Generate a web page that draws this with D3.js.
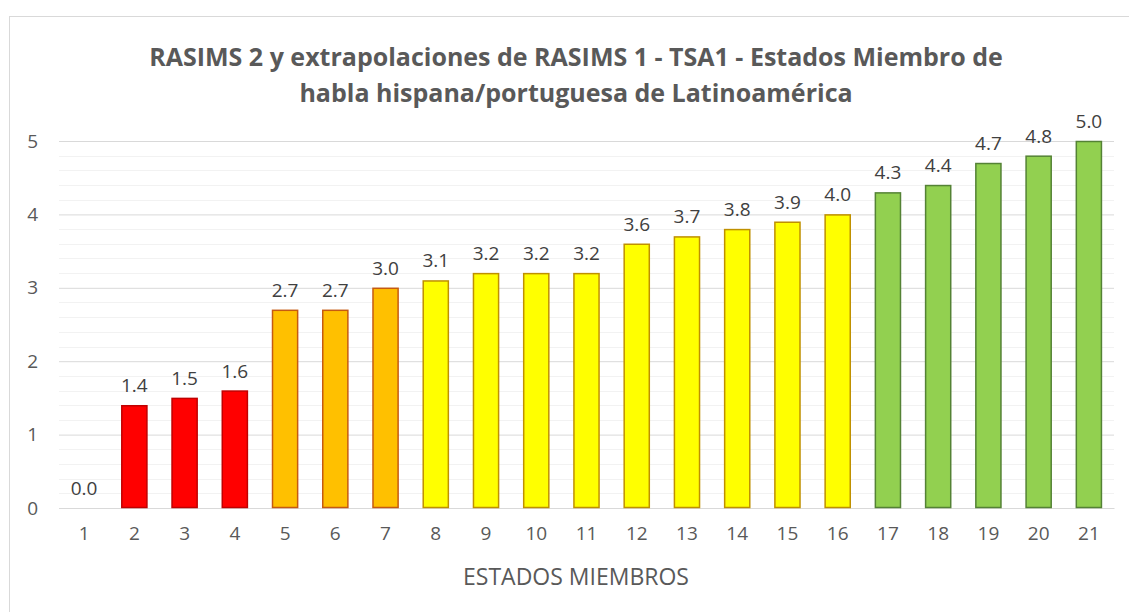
<!doctype html>
<html>
<head>
	<meta charset="utf-8">
	<title>RASIMS 2</title>
	<script src="https://cdn.jsdelivr.net/npm/d3@7"></script>
	<style>
		body { margin: 0; background: #fff; }
		text { font-family: "Open Sans", sans-serif; }
	</style>
</head>
<body>
	<script>
		// data
		var estados = d3.range(1, 22).map(String);
		var valores = [0.0, 1.4, 1.5, 1.6, 2.7, 2.7, 3.0, 3.1, 3.2, 3.2, 3.2, 3.6, 3.7, 3.8, 3.9, 4.0, 4.3, 4.4, 4.7, 4.8, 5.0];
		var grupos = ['r', 'r', 'r', 'r', 'o', 'o', 'o', 'y', 'y', 'y', 'y', 'y', 'y', 'y', 'y', 'y', 'g', 'g', 'g', 'g', 'g'];
		var yTicks = [0, 1, 2, 3, 4, 5];
		var titulo = ['RASIMS 2 y extrapolaciones de RASIMS 1 - TSA1 - Estados Miembro de',
			'habla hispana/portuguesa de Latinoamérica'];

		var relleno = { r: '#ff0000', o: '#ffc000', y: '#ffff00', g: '#92d050' };
		var borde = { r: '#c00000', o: '#c55a11', y: '#bf9000', g: '#548235' };

		var W = 1129, H = 612;
		var m = { left: 59, right: 15, top: 141, bottom: 104 };

		var svg = d3.select('body').append('svg')
			.attr('width', W)
			.attr('height', H);

		// chart border
		svg.append('rect')
			.attr('x', 9.5).attr('y', 16.5)
			.attr('width', W + 10).attr('height', H + 10)
			.attr('fill', 'none')
			.attr('stroke', '#d9d9d9');

		var x = d3.scaleBand()
			.domain(estados)
			.range([m.left, W - m.right])
			.paddingInner(0.48)
			.paddingOuter(0.24);

		var y = d3.scaleLinear()
			.domain([0, 5])
			.range([H - m.bottom, m.top]);

		// minor grid
		svg.append('g')
			.selectAll('line')
			.data(d3.range(0, 5.01, 0.2).filter(function(d) { return Math.abs(d - Math.round(d)) > 0.01; }))
			.enter().append('line')
			.attr('x1', m.left).attr('x2', W - m.right)
			.attr('y1', function(d) { return Math.round(y(d)) + 0.5; })
			.attr('y2', function(d) { return Math.round(y(d)) + 0.5; })
			.attr('stroke', '#f2f2f2');

		// major grid + y labels via axis
		var yAxis = svg.append('g')
			.attr('transform', 'translate(' + m.left + ',0)')
			.call(d3.axisLeft(y).tickValues(yTicks).tickSize(-(W - m.right - m.left)).tickPadding(21).tickFormat(d3.format('d')));
		yAxis.select('.domain').remove();
		yAxis.selectAll('line').attr('stroke', '#d9d9d9');
		yAxis.selectAll('text').attr('fill', '#595959').style('font-size', '19px');

		var xAxis = svg.append('g')
			.attr('transform', 'translate(0,' + (H - m.bottom) + ')')
			.call(d3.axisBottom(x).tickSize(0).tickPadding(19));
		xAxis.select('.domain').attr('stroke', '#d9d9d9');
		xAxis.selectAll('text').attr('fill', '#595959').style('font-size', '19px');

		svg.append('g')
			.selectAll('rect')
			.data(valores)
			.enter().append('rect')
			.attr('x', function(d, i) { return x(estados[i]) + 0.5; })
			.attr('y', function(d) { return y(d) + 0.5; })
			.attr('width', x.bandwidth() - 1)
			.attr('height', function(d) { return Math.max(0, y(0) - y(d) - 1); })
			.attr('fill', function(d, i) { return relleno[grupos[i]]; })
			.attr('stroke', function(d, i) { return d > 0 ? borde[grupos[i]] : 'none'; })
			.attr('stroke-width', 1.5);

		svg.append('g')
			.selectAll('text')
			.data(valores)
			.enter().append('text')
			.attr('x', function(d, i) { return x(estados[i]) + x.bandwidth() / 2; })
			.attr('y', function(d) { return y(d) - 13; })
			.attr('text-anchor', 'middle')
			.attr('fill', '#404040')
			.style('font-size', '19px')
			.text(function(d) { return d3.format('.1f')(d); });

		svg.append('g')
			.selectAll('text')
			.data(titulo)
			.enter().append('text')
			.attr('x', 576)
			.attr('y', function(d, i) { return 66 + i * 36; })
			.attr('text-anchor', 'middle')
			.attr('fill', '#595959')
			.style('font-size', '25px')
			.style('font-weight', 'bold')
			.text(function(d) { return d; });

		svg.append('text')
			.attr('x', 576)
			.attr('y', 585)
			.attr('text-anchor', 'middle')
			.attr('fill', '#595959')
			.style('font-size', '23px')
			.text('ESTADOS MIEMBROS');
	</script>
</body>
</html>
